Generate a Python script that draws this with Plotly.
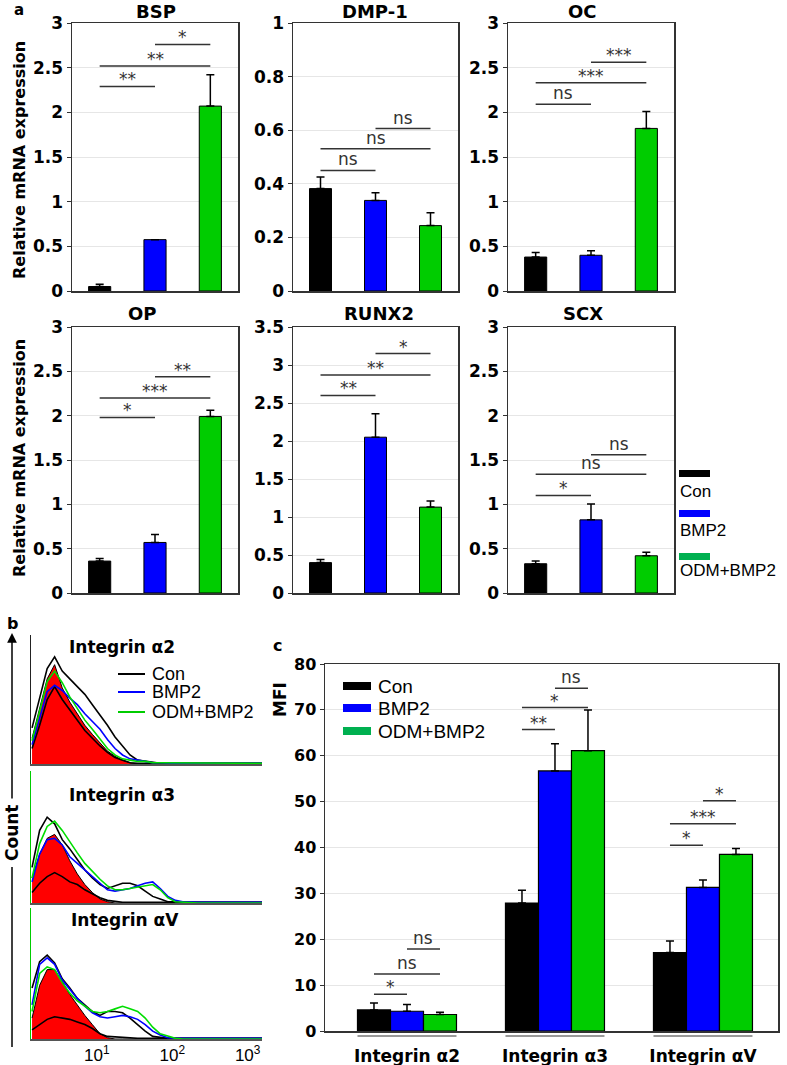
import plotly.graph_objects as go

W, H = 787, 1065
FONT = "DejaVu Sans"
KFONT = "Liberation Sans"
AXC = "#333333"
GRID = "#E6E6E6"

# ---------------- data: panel a (relative mRNA expression) ----------------
groups = ["Con", "BMP2", "ODM+BMP2"]
bar_colors = ["#000000", "#0000FF", "#00CC00"]
key_colors = ["#000000", "#0000FF", "#00B050"]

genes = ["BSP", "DMP-1", "OC", "OP", "RUNX2", "SCX"]
bsp_mean = [0.05, 0.575, 2.07]
bsp_err = [0.025, 0.0, 0.35]
dmp1_mean = [0.382, 0.338, 0.244]
dmp1_err = [0.043, 0.029, 0.048]
oc_mean = [0.38, 0.40, 1.82]
oc_err = [0.05, 0.05, 0.19]
op_mean = [0.36, 0.57, 1.99]
op_err = [0.03, 0.09, 0.07]
runx2_mean = [0.40, 2.05, 1.13]
runx2_err = [0.04, 0.31, 0.08]
scx_mean = [0.33, 0.825, 0.42]
scx_err = [0.03, 0.18, 0.04]
gene_ymax = [3, 1, 3, 3, 3.5, 3]
gene_dtick = [0.5, 0.2, 0.5, 0.5, 0.5, 0.5]

# significance brackets: (from group, to group, height, label)
bsp_sig = [(0, 1, 2.29, "**"), (0, 2, 2.52, "**"), (1, 2, 2.76, "*")]
dmp1_sig = [(0, 1, 0.45, "ns"), (0, 2, 0.531, "ns"), (1, 2, 0.606, "ns")]
oc_sig = [(0, 1, 2.09, "ns"), (0, 2, 2.33, "***"), (1, 2, 2.56, "***")]
op_sig = [(0, 1, 1.98, "*"), (0, 2, 2.20, "***"), (1, 2, 2.44, "**")]
runx2_sig = [(0, 1, 2.60, "**"), (0, 2, 2.87, "**"), (1, 2, 3.15, "*")]
scx_sig = [(0, 1, 1.10, "*"), (0, 2, 1.34, "ns"), (1, 2, 1.56, "ns")]

# ---------------- data: panel b (flow cytometry histograms) ----------------
integrins = ["Integrin α2", "Integrin α3", "Integrin αV"]
fl_bins = [1.38, 1.74, 2.19, 2.75, 3.47, 4.37, 5.50, 6.92, 8.71, 11.0, 13.8, 17.4,
           21.9, 27.5, 34.7, 43.7, 55.0, 69.2, 87.1, 110, 138, 174, 219, 1550]

a2_iso = [20, 43, 66, 77, 59, 48, 39, 30, 23, 16, 10, 6, 3, 1, 0, 0, 0, 0, 0, 0, 0, 0, 0, 0]
a2_low = [12, 30, 50, 60, 50, 42, 34, 26, 20, 14, 9, 5, 3, 1, 0.5, 0.5, 0.5, 0.5, 0.5, 0.5, 0.5, 0.5, 0.5, 0.5]
a2_con = [28, 51, 74, 83, 72, 66, 60, 54, 46, 38, 30, 21, 14, 7, 3, 2, 1, 0.5, 0.5, 0.5, 0.5, 0.5, 0.5, 0.5]
a2_bmp2 = [15, 36, 56, 61, 57, 51, 46, 39, 33, 27, 19, 12, 7, 4, 3, 2, 1, 1, 0.5, 0.5, 0.5, 0.5, 0.5, 0.5]
a2_odm = [18, 41, 64, 72, 63, 52, 43, 34, 27, 19, 12, 7, 4, 3, 2, 2, 1, 1, 1, 0.5, 0.5, 0.5, 0.5, 0.5]

a3_iso = [19, 37, 49, 52, 44, 32, 22, 14, 8, 3, 1, 0, 0, 0, 0, 0, 0, 0, 0, 0, 0, 0, 0, 0]
a3_low = [8, 15, 20, 23, 20, 16, 14, 10, 7, 4, 2, 1, 0.5, 0.5, 0.5, 0.5, 0.5, 0.5, 0.5, 0.5, 0.5, 0.5, 0.5, 0.5]
a3_con = [27, 55, 65, 60, 48, 41, 33, 25, 19, 14, 11, 13, 15, 15, 13, 9, 5, 3, 1, 1, 0.5, 0.5, 0.5, 0.5]
a3_bmp2 = [16, 37, 48, 49, 44, 35, 30, 25, 20, 15, 10, 9, 10, 11, 13, 15, 16, 11, 5, 2, 1, 0.5, 0.5, 0.5]
a3_odm = [19, 45, 58, 62, 55, 46, 38, 30, 24, 18, 13, 10, 10, 11, 12, 13, 14, 10, 4, 1, 0.5, 0, 0, 0]

av_iso = [16, 41, 53, 53, 44, 34, 26, 18, 11, 4, 1, 0, 0, 0, 0, 0, 0, 0, 0, 0, 0, 0, 0, 0]
av_low = [7, 11, 15, 17, 16, 15, 13, 11, 8, 4, 2, 1.5, 1, 1, 0.5, 0.5, 0.5, 0.5, 0.5, 0.5, 0.5, 0.5, 0.5, 0.5]
av_con = [39, 59, 64, 58, 46, 39, 31, 26, 21, 18, 21, 21, 20, 16, 11, 6, 2, 1, 0.5, 0.5, 0.5, 0.5, 0.5, 0.5]
av_bmp2 = [26, 57, 62, 57, 45, 38, 31, 25, 20, 17, 16, 17, 18, 17, 15, 11, 6, 3, 1, 0.5, 0.5, 0.5, 0.5, 0.5]
av_odm = [21, 50, 55, 53, 43, 35, 29, 25, 21, 20, 21, 23, 25, 23, 21, 16, 9, 4, 2, 0.5, 0, 0, 0, 0]

# ---------------- data: panel c (MFI) ----------------
mfi_con = [4.6, 27.9, 17.1]
mfi_con_err = [1.5, 2.8, 2.5]
mfi_bmp2 = [4.3, 56.7, 31.3]
mfi_bmp2_err = [1.5, 5.9, 1.6]
mfi_odm = [3.6, 61.1, 38.5]
mfi_odm_err = [0.5, 8.9, 1.3]
mfi_sig = [
    (0, 0, 1, 8.0, "*"), (0, 0, 2, 12.4, "ns"), (0, 1, 2, 17.9, "ns"),
    (1, 0, 1, 65.7, "**"), (1, 0, 2, 70.5, "*"), (1, 1, 2, 74.7, "ns"),
    (2, 0, 1, 40.5, "*"), (2, 0, 2, 45.2, "***"), (2, 1, 2, 50.2, "*"),
]

# ---------------- helpers ----------------
def fx(p):
    return p / W


def fy(p):
    return 1 - p / H


fig = go.Figure()
layout = dict(
    template="none",
    width=W, height=H, margin=dict(l=0, r=0, t=0, b=0, pad=0),
    paper_bgcolor="white", plot_bgcolor="white", showlegend=False,
    barmode="group", bargap=0.331, bargroupgap=0,
    font=dict(family=FONT, color="black"),
)
shapes = []
annotations = []


def txt(x, y, text, size=16, bold=False, xanchor="center", yanchor="middle", angle=0,
        color="black", family=FONT):
    annotations.append(dict(
        x=fx(x), y=fy(y), xref="paper", yref="paper", text=text, showarrow=False,
        xanchor=xanchor, yanchor=yanchor, textangle=angle, borderpad=0,
        font=dict(family=family, size=size, color=color, weight="bold" if bold else "normal"),
    ))


def rect(x0, x1, y0, y1, color):
    shapes.append(dict(type="rect", xref="paper", yref="paper", x0=fx(x0), x1=fx(x1),
                       y0=fy(y1), y1=fy(y0), fillcolor=color, line=dict(width=0)))


def hline(x0, x1, y, color, width):
    shapes.append(dict(type="line", xref="paper", yref="paper", x0=fx(x0), x1=fx(x1),
                       y0=fy(y), y1=fy(y), line=dict(color=color, width=width)))


# ---------------- panel a ----------------
gene_means = [bsp_mean, dmp1_mean, oc_mean, op_mean, runx2_mean, scx_mean]
gene_errs = [bsp_err, dmp1_err, oc_err, op_err, runx2_err, scx_err]
gene_sigs = [bsp_sig, dmp1_sig, oc_sig, op_sig, runx2_sig, scx_sig]
a_cols = [(72, 238), (293, 458), (508, 674)]
a_rows = [(23, 291), (327, 593)]
a_title_pos = [(156, 12), (375, 12), (582, 12), (142, 313), (379, 313), (583, 313)]

for i, gene in enumerate(genes):
    n = i + 1
    c0, c1 = a_cols[i % 3]
    r0, r1 = a_rows[i // 3]
    fig.add_trace(go.Bar(
        x=[0, 1, 2], y=gene_means[i], width=0.4, text=groups, textposition="none",
        marker=dict(color=bar_colors, line=dict(color="black", width=1)),
        error_y=dict(type="data", symmetric=False, array=gene_errs[i], arrayminus=[0, 0, 0],
                     color="black", thickness=1.5, width=4),
        xaxis=f"x{n}", yaxis=f"y{n}",
    ))
    layout[f"xaxis{n}"] = dict(
        domain=[fx(c0), fx(c1)], anchor=f"y{n}", range=[-0.5, 2.5], automargin=False,
        showticklabels=False, tickvals=[], ticks="", showline=True, mirror=True,
        linecolor=AXC, linewidth=1.5, showgrid=False, zeroline=False,
    )
    layout[f"yaxis{n}"] = dict(
        domain=[fy(r1), fy(r0)], anchor=f"x{n}", range=[0, gene_ymax[i]], dtick=gene_dtick[i],
        automargin=False,
        ticks="outside", ticklen=4, tickcolor=AXC, showline=True, mirror=True,
        linecolor=AXC, linewidth=1.5, showgrid=True, gridcolor=GRID, zeroline=False,
        tickfont=dict(family=FONT, size=17, weight="bold", color="black"),
    )
    for (g0, g1, yv, lab) in gene_sigs[i]:
        shapes.append(dict(type="line", xref=f"x{n}", yref=f"y{n}", x0=g0, x1=g1, y0=yv, y1=yv,
                           line=dict(color="#333333", width=1.5)))
        annotations.append(dict(
            x=(g0 + g1) / 2, y=yv, xref=f"x{n}", yref=f"y{n}", text=lab, showarrow=False,
            xanchor="center", yanchor="bottom", yshift=-5 if "*" in lab else -1,
            font=dict(family=FONT, size=17, color="#333333"),
        ))
    tx, ty = a_title_pos[i]
    txt(tx, ty, gene, size=18, bold=True)

txt(20, 160, "Relative mRNA expression", size=16, bold=True, angle=-90)
txt(20, 458, "Relative mRNA expression", size=16, bold=True, angle=-90)
txt(19, 10, "a", size=15, bold=True)

# legend of panel a
a_key_rect_y = [470, 510, 553]
a_key_text_y = [491, 530, 570]
for k, g in enumerate(groups):
    rect(679, 710, a_key_rect_y[k], a_key_rect_y[k] + 7, key_colors[k])
    txt(679, a_key_text_y[k], g, size=17, xanchor="left", family=KFONT)

# ---------------- panel b ----------------
hist_sets = [
    (a2_iso, a2_low, a2_con, a2_bmp2, a2_odm),
    (a3_iso, a3_low, a3_con, a3_bmp2, a3_odm),
    (av_iso, av_low, av_con, av_bmp2, av_odm),
]
b_rows = [(635, 764), (771, 903), (908, 1039)]
b_left_colors = ["#222222", "#00CC00", "#00CC00"]
b_title_pos = [(122, 647), (122, 795), (125, 920)]
hist_line_colors = ["#000000", "#000000", "#0000FF", "#00DD00"]

for k in range(3):
    n = 7 + k
    iso, low, con, bmp, odm = hist_sets[k]
    fig.add_trace(go.Scatter(x=fl_bins, y=iso, mode="lines", fill="tozeroy", fillcolor="#FF0000",
                             line=dict(color="black", width=1), xaxis=f"x{n}", yaxis=f"y{n}"))
    for series, col in zip([low, con, bmp, odm], hist_line_colors):
        fig.add_trace(go.Scatter(x=fl_bins, y=series, mode="lines",
                                 line=dict(color=col, width=1.6), xaxis=f"x{n}", yaxis=f"y{n}"))
    r0, r1 = b_rows[k]
    xa = dict(
        domain=[fx(31), fx(262)], anchor=f"y{n}", type="log", range=[0.126, 3.19],
        automargin=False,
        showline=True, linecolor="#555555", linewidth=1.5, showgrid=False, zeroline=False,
        ticks="", tickfont=dict(family=KFONT, size=17, color="black"),
    )
    if k == 2:
        xa.update(tickvals=[10, 100, 1000],
                  ticktext=["10<sup>1</sup>", "10<sup>2</sup>", "10<sup>3</sup>"])
    else:
        xa.update(tickvals=[], showticklabels=False)
    layout[f"xaxis{n}"] = xa
    layout[f"yaxis{n}"] = dict(
        domain=[fy(r1), fy(r0)], anchor=f"x{n}", range=[0, 100], automargin=False,
        showline=True, linecolor=b_left_colors[k], linewidth=1.5, showgrid=False,
        zeroline=False, showticklabels=False, tickvals=[], ticks="",
    )
    tx, ty = b_title_pos[k]
    txt(tx, ty, integrins[k], size=17, bold=True)

# legend of panel b
b_key_y = [674, 692, 712]
for k, g in enumerate(groups):
    hline(118, 145, b_key_y[k], ["#000000", "#0000FF", "#00CC00"][k], 2)
    txt(151, b_key_y[k], g, size=18, xanchor="left", family=KFONT)

txt(12, 623, "b", size=16, bold=True)
txt(12, 833, "Count", size=17, bold=True, angle=-90)
annotations.append(dict(x=fx(12), y=fy(633), xref="paper", yref="paper", text="",
                        showarrow=True, ax=0, ay=167, arrowhead=2, arrowsize=1.3,
                        arrowwidth=1.5, arrowcolor="black"))
shapes.append(dict(type="line", xref="paper", yref="paper", x0=fx(12), x1=fx(12),
                   y0=fy(867), y1=fy(1047), line=dict(color="black", width=1.5)))

# ---------------- panel c ----------------
mfi_means = [mfi_con, mfi_bmp2, mfi_odm]
mfi_errs = [mfi_con_err, mfi_bmp2_err, mfi_odm_err]
for k, g in enumerate(groups):
    fig.add_trace(go.Bar(
        x=integrins, y=mfi_means[k], name=g,
        marker=dict(color=bar_colors[k], line=dict(color="black", width=1.2)),
        error_y=dict(type="data", symmetric=False, array=mfi_errs[k], arrayminus=[0, 0, 0],
                     color="black", thickness=1.5, width=4),
        xaxis="x10", yaxis="y10",
    ))
layout["xaxis10"] = dict(
    domain=[fx(325), fx(778)], anchor="y10", range=[-0.554, 2.507], automargin=False,
    showline=True, mirror=True, linecolor=AXC, linewidth=1.5, ticks="", showgrid=False,
    zeroline=False, ticklabelstandoff=9,
    tickfont=dict(family=FONT, size=17, weight="bold", color="black"),
)
layout["yaxis10"] = dict(
    domain=[fy(1031), fy(664)], anchor="x10", range=[0, 80], dtick=10, automargin=False,
    ticks="outside", ticklen=4, tickcolor=AXC, showline=True, mirror=True,
    linecolor=AXC, linewidth=1.5, showgrid=True, gridcolor=GRID, zeroline=False,
    tickfont=dict(family=FONT, size=16, weight="bold", color="black"),
)
bw = (1 - 0.331) / 3
for (grp, g0, g1, yv, lab) in mfi_sig:
    xa0 = grp + (g0 - 1) * bw
    xb0 = grp + (g1 - 1) * bw
    shapes.append(dict(type="line", xref="x10", yref="y10", x0=xa0, x1=xb0, y0=yv, y1=yv,
                       line=dict(color="#333333", width=1.5)))
    annotations.append(dict(
        x=(xa0 + xb0) / 2, y=yv, xref="x10", yref="y10", text=lab, showarrow=False,
        xanchor="center", yanchor="bottom", yshift=-5 if "*" in lab else -1,
        font=dict(family=FONT, size=17, color="#333333"),
    ))
for grp in range(3):
    shapes.append(dict(type="line", xref="x10", yref="paper", x0=grp - 1.5 * bw, x1=grp + 1.5 * bw,
                       y0=fy(1036), y1=fy(1036), line=dict(color="#999999", width=2)))

txt(280, 700, "MFI", size=17, bold=True, angle=-90)
txt(277, 645, "c", size=16, bold=True)

c_key_y = [686, 708, 731]
for k, g in enumerate(groups):
    rect(343, 371, c_key_y[k] - 4, c_key_y[k] + 4, key_colors[k])
    txt(377, c_key_y[k], g, size=19, xanchor="left", family=KFONT)

layout["shapes"] = shapes
layout["annotations"] = annotations
fig.update_layout(**layout)
fig.write_html(
    "out.html",
    config={"displayModeBar": False, "staticPlot": True},
    post_script="document.body.style.margin='0px';document.body.style.padding='0px';"
                "document.documentElement.style.overflow='hidden';",
)
